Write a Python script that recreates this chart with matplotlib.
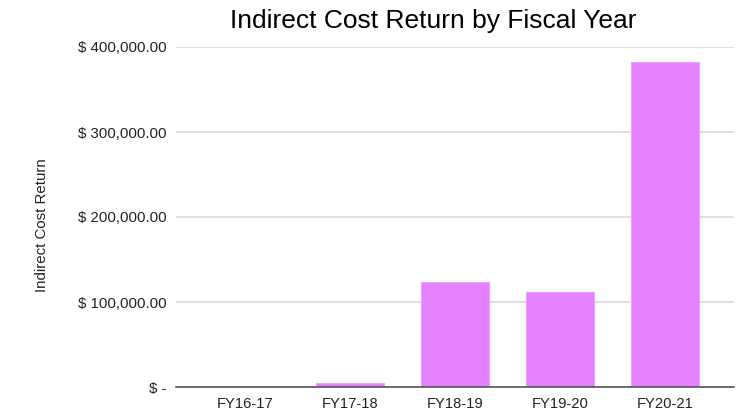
import matplotlib
matplotlib.use("Agg")
import matplotlib.pyplot as plt
from matplotlib.ticker import FuncFormatter

categories = ["FY16-17", "FY17-18", "FY18-19", "FY19-20", "FY20-21"]
values = [0, 5000, 123000, 112000, 382000]
yticks = [0, 100000, 200000, 300000, 400000]

plt.rcParams['font.family'] = ['Liberation Sans', 'DejaVu Sans']

fig = plt.figure(figsize=(7.36, 4.12), dpi=100)
ax = fig.add_axes([176/736, 1 - 387/412, (734-176)/736, (387-47)/412])

x = list(range(len(categories)))
ax.bar(x, values, width=0.64, color="#E580FF", edgecolor="#EBA3FF", linewidth=0.8, zorder=3)

ax.set_xlim(-0.657, 4.657)
ax.set_ylim(0, 400000)
ax.set_yticks(yticks)

def fmt(v, pos):
    if v == 0:
        return "$ -"
    return "$ {:,.2f}".format(v)

ax.yaxis.set_major_formatter(FuncFormatter(fmt))
ax.set_xticks(x)
ax.set_xticklabels(categories)

ax.grid(axis='y', color="#d9d9d9", linewidth=1.2, zorder=0)
for s in ['top', 'right', 'left']:
    ax.spines[s].set_visible(False)
ax.spines['bottom'].set_color("#555555")
ax.spines['bottom'].set_linewidth(1.2)
ax.spines['bottom'].set_zorder(4)
ax.tick_params(axis='y', length=0, pad=7, labelsize=10.8, labelcolor="#222222")
ax.tick_params(axis='x', length=0, pad=7, labelsize=10.6, labelcolor="#222222")

ax.set_ylabel("Indirect Cost Return", fontsize=10.8, color="#222222")
ax.yaxis.set_label_coords(-0.2276, 0.475)

fig.text(433/736, 1 - 21/412, "Indirect Cost Return by Fiscal Year", ha='center', va='center',
         fontsize=19, color="#000000")

fig.savefig("out.png", dpi=100)
